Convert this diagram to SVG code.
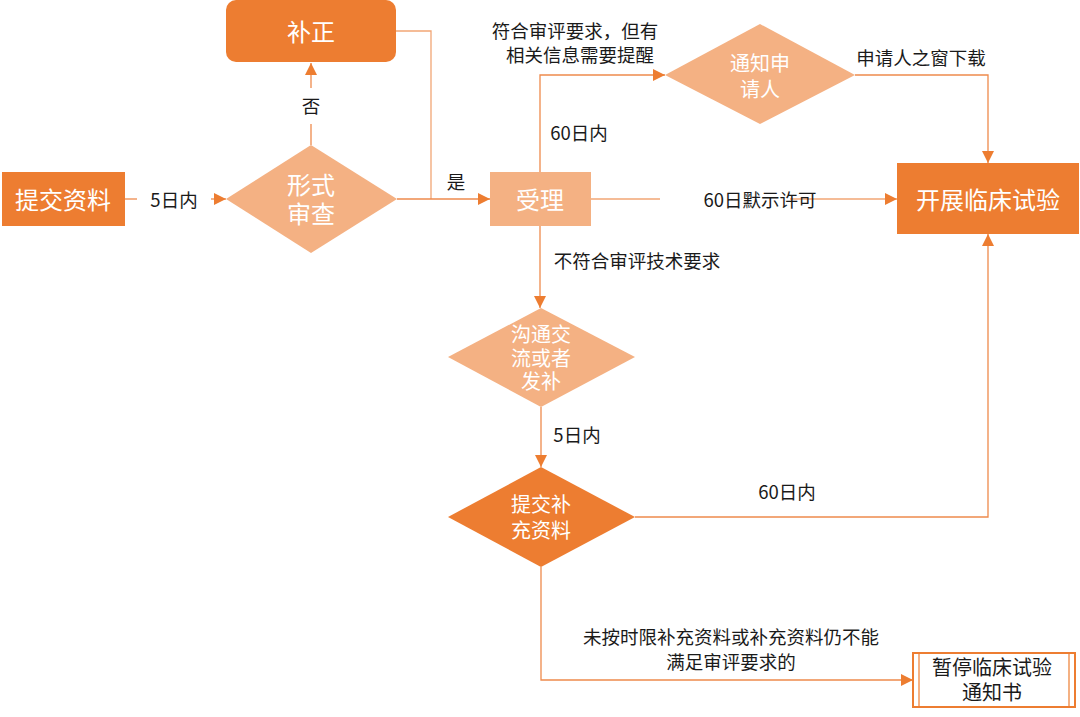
<svg xmlns="http://www.w3.org/2000/svg" width="1080" height="717" viewBox="0 0 1080 717">
  <style>
    .dark { fill: #ED7D31; }
    .light { fill: #F4B183; }
    .nt { font-family: "Noto Sans CJK SC", "Noto Sans", sans-serif; fill: #ffffff; text-anchor: middle; dominant-baseline: central; }
    .big { font-size: 24px; }
    .mid { font-size: 20px; }
    .lbl { font-family: "Noto Sans CJK SC", "Noto Sans", sans-serif; font-size: 18.5px; fill: #1a1a1a; text-anchor: middle; dominant-baseline: central; }
    .ln { fill: none; stroke: #EE8A4C; stroke-width: 1.3; }
    .ln2 { fill: none; stroke: #F2A675; stroke-width: 1.3; }
  </style>
  <defs>
    <marker id="arr" viewBox="0 0 10 10" refX="10" refY="5" markerWidth="12" markerHeight="12" markerUnits="userSpaceOnUse" orient="auto">
      <path d="M0,0 L10,5 L0,10 z" fill="#ED7D31"/>
    </marker>
  </defs>
  <rect width="1080" height="717" fill="#ffffff"/>

  <g id="connectors">
    <!-- 提交资料 -> 形式审查 -->
    <line class="ln" x1="125" y1="199" x2="137" y2="199"/>
    <line class="ln" x1="211" y1="199" x2="226" y2="199" marker-end="url(#arr)"/>
    <!-- 形式审查 -> 补正 -->
    <line class="ln" x1="311" y1="145" x2="311" y2="124"/>
    <line class="ln" x1="311" y1="88" x2="311" y2="63" marker-end="url(#arr)"/>
    <!-- 补正 -> 受理 -->
    <polyline class="ln2" points="396,31 431,31 431,199"/>
    <!-- 形式审查 -> 受理 -->
    <line class="ln" x1="397" y1="199" x2="490" y2="199" marker-end="url(#arr)"/>
    <!-- 受理 -> 通知申请人 -->
    <polyline class="ln" points="540,172 540,75 665,75" marker-end="url(#arr)"/>
    <!-- 通知申请人 -> 开展临床试验 -->
    <polyline class="ln" points="855,75 988,75 988,163" marker-end="url(#arr)"/>
    <!-- 受理 -> 开展临床试验 -->
    <line class="ln2" x1="591" y1="199" x2="660" y2="199"/>
    <line class="ln2" x1="790" y1="199" x2="897" y2="199" marker-end="url(#arr)"/>
    <!-- 受理 -> 沟通交流 -->
    <line class="ln" x1="540" y1="226" x2="540" y2="308" marker-end="url(#arr)"/>
    <!-- 沟通交流 -> 提交补充资料 -->
    <line class="ln" x1="541" y1="407" x2="541" y2="467" marker-end="url(#arr)"/>
    <!-- 提交补充资料 -> 开展临床试验 -->
    <polyline class="ln" points="635,517 988,517 988,234" marker-end="url(#arr)"/>
    <!-- 提交补充资料 -> 暂停 -->
    <polyline class="ln" points="541,567 541,680 913,680" marker-end="url(#arr)"/>
  </g>

  <g id="labels">
    <text class="lbl" x="174" y="199">5日内</text>
    <text class="lbl" x="311" y="105">否</text>
    <text class="lbl" x="456" y="181">是</text>
    <text class="lbl" x="575" y="30">符合审评要求，但有</text>
    <text class="lbl" x="580" y="54">相关信息需要提醒</text>
    <text class="lbl" x="579" y="132">60日内</text>
    <text class="lbl" x="921" y="57">申请人之窗下载</text>
    <text class="lbl" x="760" y="199">60日默示许可</text>
    <text class="lbl" x="637" y="260">不符合审评技术要求</text>
    <text class="lbl" x="577" y="434">5日内</text>
    <text class="lbl" x="787" y="491">60日内</text>
    <text class="lbl" x="731" y="636">未按时限补充资料或补充资料仍不能</text>
    <text class="lbl" x="731" y="661">满足审评要求的</text>
  </g>

  <g id="node-submit">
    <rect class="dark" x="2" y="172" width="123" height="54"/>
    <text class="nt big" x="63" y="198">提交资料</text>
  </g>

  <g id="node-formal-review">
    <polygon class="light" points="311,145 397,199 311,253 226,199"/>
    <text class="nt big" x="311" y="183">形式</text>
    <text class="nt big" x="311" y="212">审查</text>
  </g>

  <g id="node-correction">
    <rect class="dark" x="226" y="0" width="170" height="62" rx="10" ry="10"/>
    <text class="nt big" x="311" y="30">补正</text>
  </g>

  <g id="node-accept">
    <rect class="light" x="490" y="172" width="101" height="54"/>
    <text class="nt big" x="540" y="198">受理</text>
  </g>

  <g id="node-notify">
    <polygon class="light" points="760,24 855,75 760,124 665,75"/>
    <text class="nt mid" x="760" y="62">通知申</text>
    <text class="nt mid" x="760" y="88">请人</text>
  </g>

  <g id="node-trial">
    <rect class="dark" x="897" y="163" width="182" height="71"/>
    <text class="nt big" x="988" y="198">开展临床试验</text>
  </g>

  <g id="node-communicate">
    <polygon class="light" points="541,308 635,357 541,407 448,357"/>
    <text class="nt mid" x="541" y="333">沟通交</text>
    <text class="nt mid" x="541" y="357">流或者</text>
    <text class="nt mid" x="541" y="380">发补</text>
  </g>

  <g id="node-supplement">
    <polygon class="dark" points="541,467 635,517 541,567 448,517"/>
    <text class="nt mid" x="541" y="503">提交补</text>
    <text class="nt mid" x="541" y="529">充资料</text>
  </g>

  <g id="node-suspend">
    <rect x="913" y="653" width="162" height="54" fill="#ffffff" stroke="#ED7D31" stroke-width="2"/>
    <line x1="919" y1="653" x2="919" y2="707" stroke="#ED7D31" stroke-width="1.2"/>
    <line x1="1069" y1="653" x2="1069" y2="707" stroke="#ED7D31" stroke-width="1.2"/>
    <text class="lbl" x="992" y="666" style="font-size:20px">暂停临床试验</text>
    <text class="lbl" x="992" y="691" style="font-size:20px">通知书</text>
  </g>
</svg>
